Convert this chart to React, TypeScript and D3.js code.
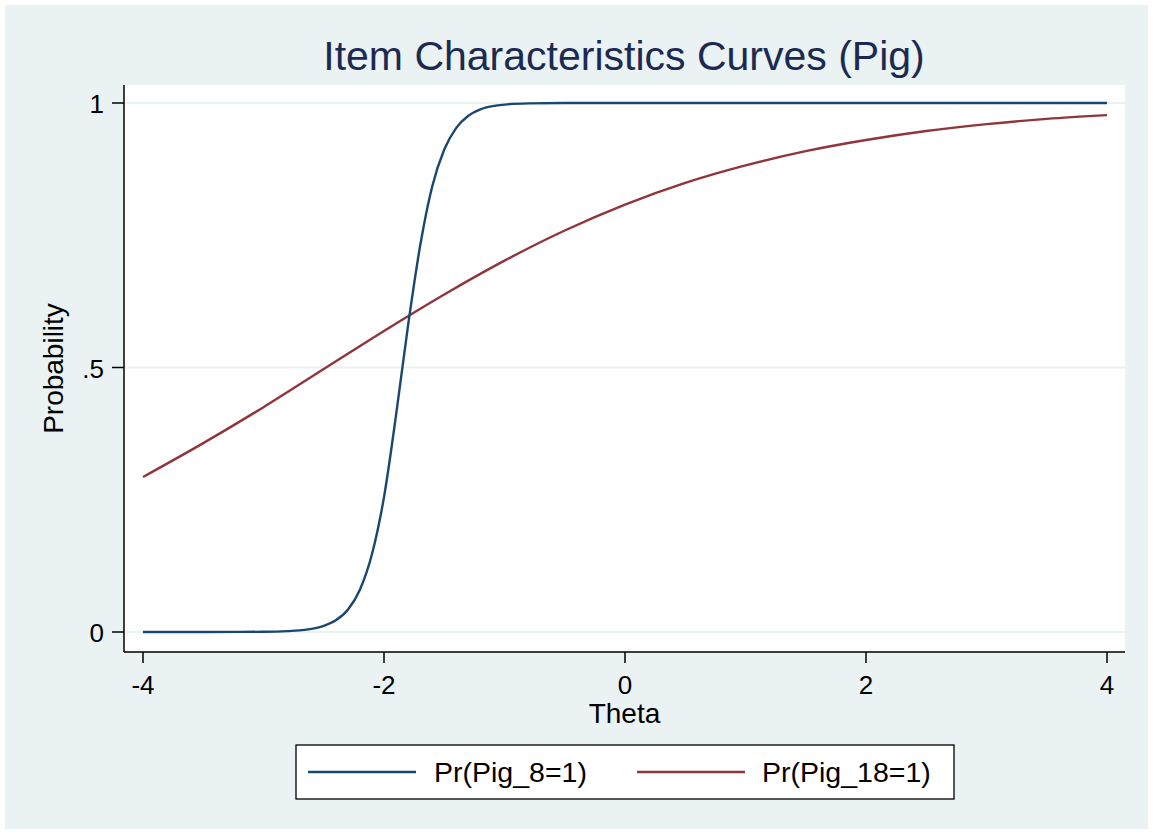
import React from "react";
import * as d3 from "d3";

// values
const thetaTicks = [-4, -2, 0, 2, 4];
const probTicks = [0, 0.5, 1];
const probLabels = ["0", ".5", "1"];

const pig8Theta = [-4, -3.5, -3, -2.8, -2.7, -2.6, -2.5, -2.4, -2.3, -2.2, -2.1, -2, -1.9, -1.8, -1.7, -1.6, -1.5, -1.4, -1.3, -1.2, -1.1, -1, -0.8, -0.5, 0, 1, 2, 3, 4];
const pig8Prob = [0, 0.00004, 0.0004, 0.0016, 0.0031, 0.006, 0.0115, 0.022, 0.042, 0.08, 0.147, 0.255, 0.41, 0.58, 0.73, 0.842, 0.912, 0.953, 0.976, 0.988, 0.994, 0.997, 0.9992, 0.9999, 1, 1, 1, 1, 1];

const pig18Theta = [-4, -3.5, -3, -2.5, -2, -1.5, -1, -0.5, 0, 0.5, 1, 1.5, 2, 2.5, 3, 3.5, 4];
const pig18Prob = [0.293, 0.357, 0.425, 0.497, 0.569, 0.638, 0.702, 0.759, 0.808, 0.849, 0.882, 0.909, 0.93, 0.947, 0.96, 0.97, 0.977];

const seriesNames = ["Pr(Pig_8=1)", "Pr(Pig_18=1)"];
const colors = ["#1a476f", "#90353b"];

const font = "'Liberation Sans', Arial, Helvetica, sans-serif";

export default function App() {
  const W = 1153;
  const H = 834;
  const plot = { left: 124, right: 1125, top: 85, bottom: 652 };

  const x = d3.scaleLinear().domain([-4, 4]).range([143, 1107]);
  const y = d3.scaleLinear().domain([0, 1]).range([632, 103]);

  const line = d3
    .line<[number, number]>()
    .x((d) => x(d[0]))
    .y((d) => y(d[1]))
    .curve(d3.curveMonotoneX);

  const s8 = pig8Theta.map((t, i) => [t, pig8Prob[i]] as [number, number]);
  const s18 = pig18Theta.map((t, i) => [t, pig18Prob[i]] as [number, number]);

  const legendY = 772;

  return (
    <svg
      width={W}
      height={H}
      style={{ position: "absolute", left: 0, top: 0, fontFamily: font }}
    >
      <rect x={0} y={0} width={W} height={H} fill="#ffffff" />
      <rect x={5} y={5} width={W - 10} height={H - 10} fill="#eaf2f3" />
      <rect
        x={plot.left}
        y={plot.top}
        width={plot.right - plot.left}
        height={plot.bottom - plot.top}
        fill="#ffffff"
      />

      {/* title */}
      <text x={624} y={70} textAnchor="middle" fontSize={41} fill="#1c2a52">
        Item Characteristics Curves (Pig)
      </text>

      {/* grid */}
      {probTicks.map((p) => (
        <line
          key={"g" + p}
          x1={plot.left + 1}
          x2={plot.right}
          y1={y(p)}
          y2={y(p)}
          stroke="#eaf2f3"
          strokeWidth={2}
        />
      ))}

      {/* curves */}
      <path d={line(s18) || ""} fill="none" stroke={colors[1]} strokeWidth={2.4} />
      <path d={line(s8) || ""} fill="none" stroke={colors[0]} strokeWidth={2.4} />

      {/* y axis */}
      <line x1={plot.left} x2={plot.left} y1={plot.top} y2={plot.bottom} stroke="#000" strokeWidth={1.5} />
      {probTicks.map((p, i) => (
        <g key={"yt" + p}>
          <line x1={112} x2={plot.left} y1={y(p)} y2={y(p)} stroke="#000" strokeWidth={1.5} />
          <text x={104} y={y(p) + 10} textAnchor="end" fontSize={26} fill="#000">
            {probLabels[i]}
          </text>
        </g>
      ))}
      <text
        transform={`translate(63, ${(plot.top + plot.bottom) / 2}) rotate(-90)`}
        textAnchor="middle"
        fontSize={28}
        fill="#000"
      >
        Probability
      </text>

      {/* x axis */}
      <line x1={plot.left} x2={plot.right} y1={plot.bottom} y2={plot.bottom} stroke="#000" strokeWidth={1.5} />
      {thetaTicks.map((t) => (
        <g key={"xt" + t}>
          <line x1={x(t)} x2={x(t)} y1={plot.bottom} y2={663} stroke="#000" strokeWidth={1.5} />
          <text x={x(t)} y={694} textAnchor="middle" fontSize={26} fill="#000">
            {t}
          </text>
        </g>
      ))}
      <text x={(plot.left + plot.right) / 2} y={723} textAnchor="middle" fontSize={28} fill="#000">
        Theta
      </text>

      {/* legend */}
      <rect x={296} y={745} width={658} height={54} fill="#ffffff" stroke="#000" strokeWidth={1.3} />
      <line x1={308} x2={416} y1={legendY} y2={legendY} stroke={colors[0]} strokeWidth={2.4} />
      <text x={434} y={782} fontSize={28.5} fill="#000">
        {seriesNames[0]}
      </text>
      <line x1={637} x2={745} y1={legendY} y2={legendY} stroke={colors[1]} strokeWidth={2.4} />
      <text x={762} y={782} fontSize={28.5} fill="#000">
        {seriesNames[1]}
      </text>
    </svg>
  );
}
